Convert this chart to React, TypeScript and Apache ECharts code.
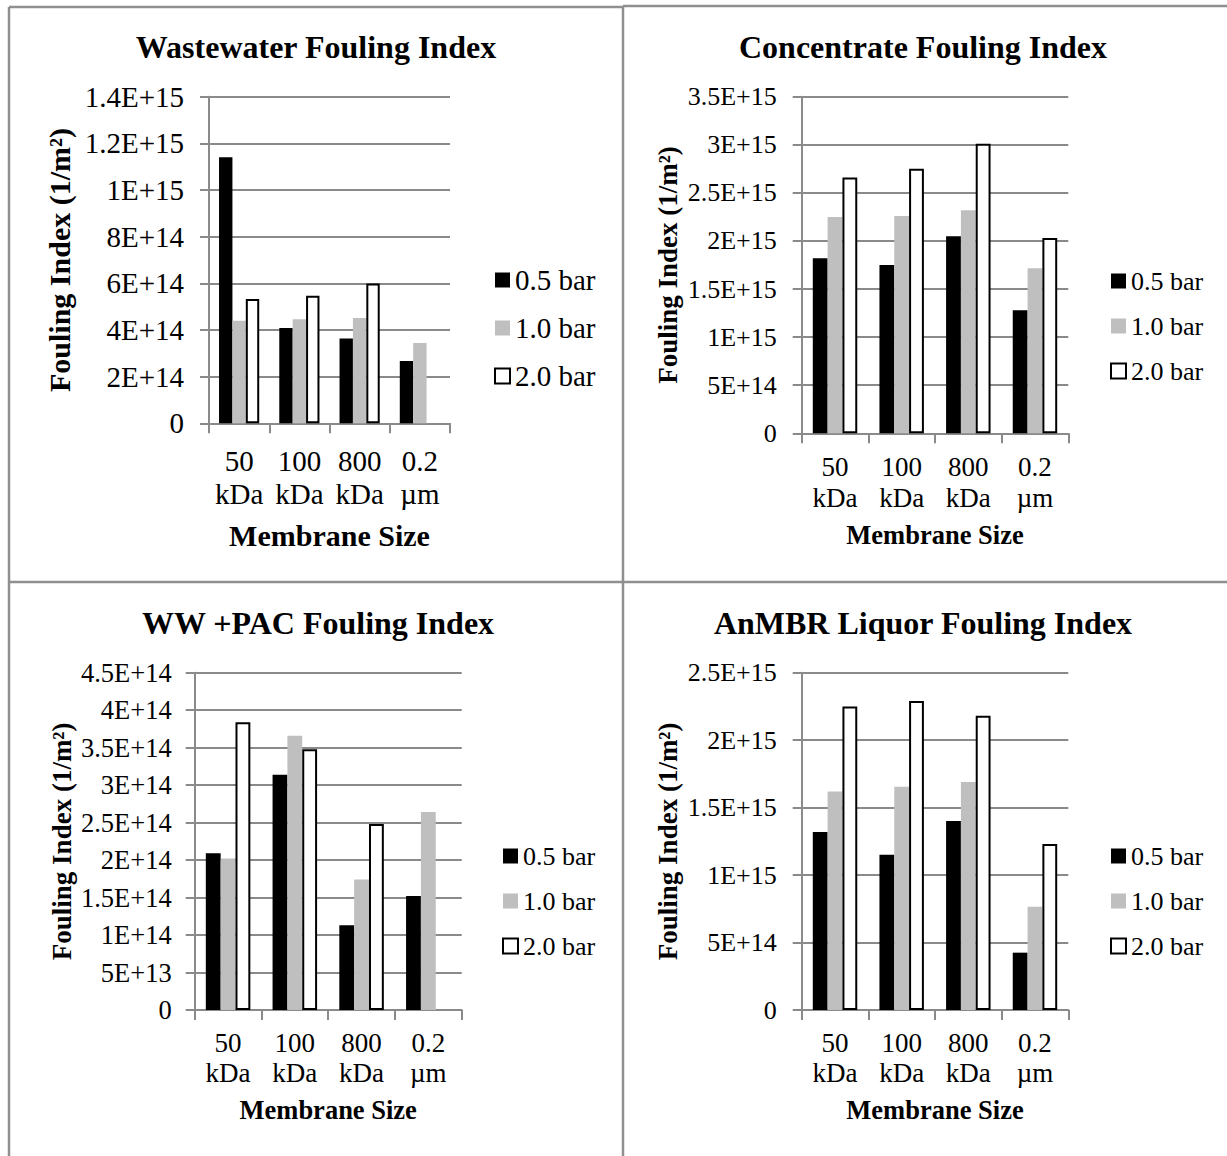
import React, { useEffect, useRef } from 'react';
import * as echarts from 'echarts';

const categories = ['50\nkDa', '100\nkDa', '800\nkDa', '0.2\nµm'];
const seriesNames = ['0.5 bar', '1.0 bar', '2.0 bar'];
const panelTitles = [
  'Wastewater Fouling Index',
  'Concentrate Fouling Index',
  'WW +PAC Fouling Index',
  'AnMBR Liquor Fouling Index',
];

const wastewater05 = [1.14e15, 4.09e14, 3.64e14, 2.67e14];
const wastewater10 = [4.4e14, 4.46e14, 4.51e14, 3.44e14];
const wastewater20 = [5.33e14, 5.47e14, 5.99e14, null];

const concentrate05 = [1.82e15, 1.75e15, 2.05e15, 1.28e15];
const concentrate10 = [2.25e15, 2.26e15, 2.32e15, 1.715e15];
const concentrate20 = [2.66e15, 2.75e15, 3.01e15, 2.03e15];

const wwPac05 = [2.09e14, 3.14e14, 1.13e14, 1.52e14];
const wwPac10 = [2.02e14, 3.66e14, 1.74e14, 2.64e14];
const wwPac20 = [3.84e14, 3.48e14, 2.48e14, null];

const anmbr05 = [1.32e15, 1.15e15, 1.4e15, 4.25e14];
const anmbr10 = [1.62e15, 1.655e15, 1.69e15, 7.66e14];
const anmbr20 = [2.25e15, 2.29e15, 2.18e15, 1.23e15];

const panelData = [
  [wastewater05, wastewater10, wastewater20],
  [concentrate05, concentrate10, concentrate20],
  [wwPac05, wwPac10, wwPac20],
  [anmbr05, anmbr10, anmbr20],
];

const yMax = [1.4e15, 3.5e15, 4.5e14, 2.5e15];
const yInterval = [2e14, 5e14, 5e13, 5e14];

const FONT = "'Liberation Serif', 'Times New Roman', serif";
const AXIS_COLOR = '#8a8a8a';
const TITLE_SIZE = 32;

const layouts = [
  { left: 209, top: 96.7, width: 241, height: 326.6, titleX: 316, titleY: 31, yNameGap: 135, xNameGap: 97, xMargin: 21, xLineHeight: 33, legendLeft: 494, legendTop: 265.5, legendGap: 19, yMargin: 25, tick: 29, xTick: 29, legendSize: 29, nameSize: 30, yNameSize: 30 },
  { left: 801.7, top: 96.7, width: 266.6, height: 336.6, titleX: 923, titleY: 31, yNameGap: 120, xNameGap: 88, xMargin: 18, xLineHeight: 31, legendLeft: 1110, legendTop: 268, legendGap: 19, yMargin: 25, tick: 26, xTick: 27, legendSize: 26, nameSize: 26.5, yNameSize: 27 },
  { left: 194.7, top: 672.7, width: 267, height: 337.3, titleX: 318, titleY: 607, yNameGap: 119.5, xNameGap: 86, xMargin: 18, xLineHeight: 30, legendLeft: 502, legendTop: 843, legendGap: 19, yMargin: 23, tick: 26.5, xTick: 27, legendSize: 26, nameSize: 26.5, yNameSize: 27 },
  { left: 801.7, top: 672.7, width: 266.6, height: 337.3, titleX: 923, titleY: 607, yNameGap: 120, xNameGap: 86, xMargin: 18, xLineHeight: 30, legendLeft: 1110, legendTop: 843, legendGap: 19, yMargin: 25, tick: 26, xTick: 27, legendSize: 26, nameSize: 26.5, yNameSize: 27 },
];

function sciLabel(v: number): string {
  if (v === 0) return '0';
  let exp = Math.floor(Math.log10(Math.abs(v)));
  let mant = v / Math.pow(10, exp);
  if (mant >= 9.95) {
    mant /= 10;
    exp += 1;
  }
  const m = parseFloat(mant.toFixed(1));
  return `${m}E+${exp}`;
}

const barStyles = [
  { color: '#000000' },
  { color: '#bfbfbf' },
  { color: '#ffffff', borderColor: '#000000', borderWidth: 2 },
];

export default function App() {
  const ref = useRef<HTMLDivElement>(null);

  useEffect(() => {
    if (!ref.current) return;
    const chart = echarts.init(ref.current, undefined, { renderer: 'svg' });

    const grid = layouts.map((l) => ({ left: l.left, top: l.top, width: l.width, height: l.height, containLabel: false }));

    const xAxis = layouts.map((l, i) => ({
      type: 'category',
      gridIndex: i,
      data: categories,
      axisLine: { show: true, lineStyle: { color: AXIS_COLOR, width: 2 } },
      axisTick: { show: true, length: 10, lineStyle: { color: AXIS_COLOR, width: 2 } },
      axisLabel: { interval: 0, margin: l.xMargin, color: '#000', fontSize: l.xTick, lineHeight: l.xLineHeight, fontFamily: FONT },
      name: 'Membrane Size',
      nameLocation: 'middle',
      nameGap: l.xNameGap,
      nameTextStyle: { color: '#000', fontSize: l.nameSize, fontWeight: 'bold', fontFamily: FONT },
    }));

    const yAxis = layouts.map((l, i) => ({
      type: 'value',
      gridIndex: i,
      min: 0,
      max: yMax[i],
      interval: yInterval[i],
      axisLine: { show: true, lineStyle: { color: AXIS_COLOR, width: 2 } },
      axisTick: { show: true, length: 9, lineStyle: { color: AXIS_COLOR, width: 2 } },
      splitLine: { show: true, lineStyle: { color: AXIS_COLOR, width: 2 } },
      axisLabel: { margin: l.yMargin, color: '#000', fontSize: l.tick, fontFamily: FONT, formatter: (v: number) => sciLabel(v) },
      name: 'Fouling Index (1/m²)',
      nameLocation: 'middle',
      nameGap: l.yNameGap,
      nameRotate: 90,
      nameTextStyle: { color: '#000', fontSize: l.yNameSize, fontWeight: 'bold', fontFamily: FONT },
    }));

    const series: any[] = [];
    panelData.forEach((sets, p) => {
      sets.forEach((vals, s) => {
        series.push({
          type: 'bar',
          name: seriesNames[s],
          xAxisIndex: p,
          yAxisIndex: p,
          data: vals,
          barGap: '0%',
          barCategoryGap: '33.3%',
          itemStyle: barStyles[s],
          emphasis: { disabled: true },
        });
      });
    });

    const title = layouts.map((l, i) => ({
      text: panelTitles[i],
      left: l.titleX,
      top: l.titleY,
      textAlign: 'center',
      padding: 0,
      textStyle: { color: '#000', fontSize: TITLE_SIZE, fontWeight: 'bold', fontFamily: FONT },
    }));

    const legend = layouts.map((l) => ({
      data: seriesNames,
      orient: 'vertical',
      left: l.legendLeft,
      top: l.legendTop,
      padding: 0,
      itemGap: l.legendGap,
      itemWidth: 15,
      itemHeight: 15,
      icon: 'rect',
      selectedMode: false,
      textStyle: { color: '#000', fontSize: l.legendSize, lineHeight: l.legendSize, fontFamily: FONT },
    }));

    const lineStyle = { stroke: '#8f8f8f', lineWidth: 2.5 };
    const graphic = [
      { type: 'line', shape: { x1: 9, y1: 7, x2: 9, y2: 1156 }, style: lineStyle, silent: true },
      { type: 'line', shape: { x1: 9, y1: 7, x2: 623, y2: 7 }, style: lineStyle, silent: true },
      { type: 'line', shape: { x1: 623, y1: 6, x2: 1227, y2: 6 }, style: lineStyle, silent: true },
      { type: 'line', shape: { x1: 623, y1: 6, x2: 623, y2: 1156 }, style: lineStyle, silent: true },
      { type: 'line', shape: { x1: 9, y1: 582, x2: 1227, y2: 582 }, style: lineStyle, silent: true },
    ];

    chart.setOption({
      animation: false,
      backgroundColor: '#ffffff',
      textStyle: { fontFamily: FONT },
      title,
      legend,
      grid,
      xAxis,
      yAxis,
      series,
      graphic,
    });

    return () => chart.dispose();
  }, []);

  return (
    <div
      ref={ref}
      style={{ position: 'absolute', left: 0, top: 0, width: 1227, height: 1156 }}
    />
  );
}
